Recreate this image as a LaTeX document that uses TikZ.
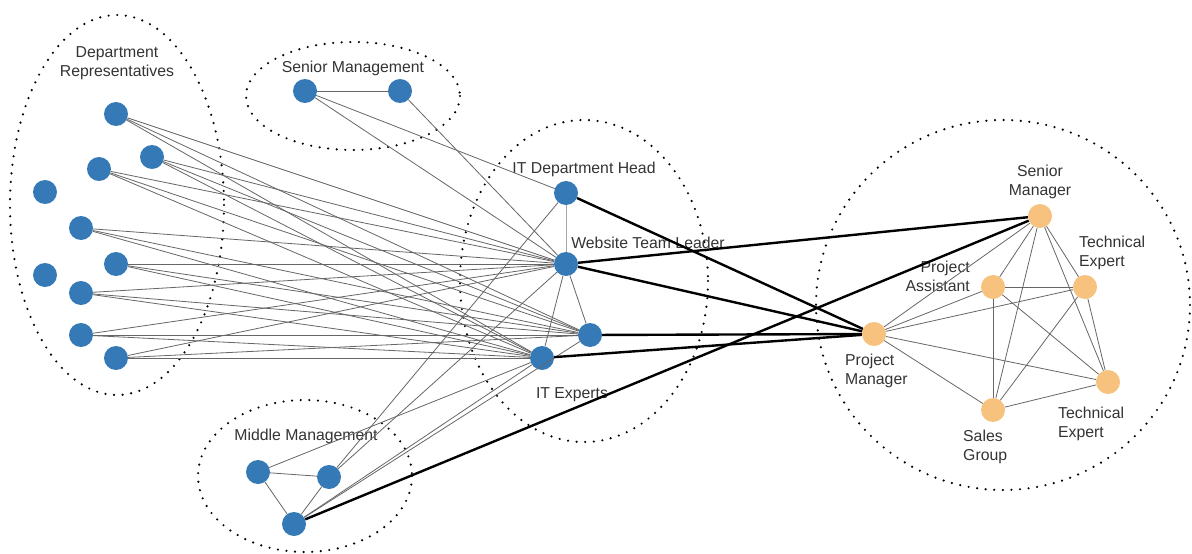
\documentclass[tikz,border=0pt]{standalone}
\usepackage{fontspec}
\setmainfont{Liberation Sans}
\usetikzlibrary{positioning}
\definecolor{nodeblue}{RGB}{53,122,183}
\definecolor{nodeorange}{RGB}{246,194,126}
\definecolor{labelgray}{RGB}{51,51,51}
\tikzset{member/.style={circle,fill=nodeblue,minimum size=24pt,inner sep=0pt},
    partner/.style={member,fill=nodeorange},
    tie/.style={draw=black!60,line width=0.8pt},
    strongtie/.style={draw=black,line width=2.4pt},
    group/.style={draw=black,line width=2.4pt,line cap=round,dash pattern=on 0pt off 8.6pt},
    caption/.style={font=\fontsize{15.8}{19}\selectfont,text=labelgray,inner sep=0pt,yshift=-2pt}}

\begin{document}
\begin{tikzpicture}[x=1pt,y=-1pt]
        \useasboundingbox (0,0) rectangle (1192,554);
        \draw[group] (117,205) ellipse [x radius=107,y radius=190];
        \draw[group] (353,96) ellipse [x radius=107,y radius=54];
        \draw[group] (584,281) ellipse [x radius=124,y radius=161];
        \draw[group] (305,476) ellipse [x radius=107,y radius=76];
        \draw[group] (1003,305) ellipse [x radius=187,y radius=185];

        \node[member] (dr1) at (116,114) {};
        \node[member] (dr2) at (152,157) {};
        \node[member] (dr3) at (99,169) {};
        \node[member] (dr4) at (45,192) {};
        \node[member] (dr5) at (81,228) {};
        \node[member] (dr6) at (116,264) {};
        \node[member] (dr7) at (45,275) {};
        \node[member] (dr8) at (81,293) {};
        \node[member] (dr9) at (81,335) {};
        \node[member] (dr10) at (116,358) {};
        \node[member] (sm1) at (305,91) {};
        \node[member] (sm2) at (400,91) {};
        \node[member] (ithead) at (566,193) {};
        \node[member] (wtl) at (566,264) {};
        \node[member] (ite1) at (590,335) {};
        \node[member] (ite2) at (542,358) {};
        \node[member] (mm1) at (258,472) {};
        \node[member] (mm2) at (329,477) {};
        \node[member] (mm3) at (294,524) {};
        \node[partner] (smgr) at (1040,216) {};
        \node[partner] (pa) at (993,287) {};
        \node[partner] (te1) at (1085,287) {};
        \node[partner] (pm) at (874,334) {};
        \node[partner] (te2) at (1108,382) {};
        \node[partner] (sg) at (993,410) {};

        \node[caption,align=center] (drlabel) at (117,61) {Department\\Representatives};
        \node[caption] (smlabel) at (353,66) {Senior Management};
        \node[caption] (itheadlabel) at (584,167) {IT Department Head};
        \node[caption] (wtllabel) at (648,241) {Website Team Leader};
        \node[caption] (itelabel) at (572,393) {IT Experts};
        \node[caption] (mmlabel) at (306,434) {Middle Management};
        \node[caption,align=center] (smgrlabel) at (1040,180) {Senior\\Manager};
        \node[caption,align=left,anchor=west] (te1label) at (1079,251) {Technical\\Expert};
        \node[caption,align=right,anchor=east] (palabel) at (970,274) {Project\\Assistant};
        \node[caption,align=left,anchor=west] (pmlabel) at (845,369) {Project\\Manager};
        \node[caption,align=left,anchor=west] (te2label) at (1058,422) {Technical\\Expert};
        \node[caption,align=left,anchor=west] (sglabel) at (963,445) {Sales\\Group};

        \foreach \r in {dr1,dr2,dr3,dr5,dr6,dr8,dr9,dr10}{
            \draw[tie] (\r) -- (wtl);
            \draw[tie] (\r) -- (ite1);
            \draw[tie] (\r) -- (ite2);
        }
        \draw[tie] (sm1) -- (sm2);
        \draw[tie] (sm1) -- (ithead);
        \draw[tie] (sm1) -- (wtl);
        \draw[tie] (sm2) -- (wtl);
        \draw[tie,draw=black!35] (ithead) -- (wtl);
        \draw[tie] (wtl) -- (ite1);
        \draw[tie] (wtl) -- (ite2);
        \draw[tie] (mm1) -- (mm2);
        \draw[tie] (mm1) -- (mm3);
        \draw[tie] (mm2) -- (mm3);
        \draw[tie] (mm1) -- (ite2);
        \draw[tie] (mm2) -- (ithead);
        \draw[tie] (mm2) -- (wtl);
        \draw[tie] (mm3) -- (ite1);
        \draw[tie] (mm3) -- (ite2);
        \foreach \a/\b in {pm/smgr,pm/pa,pm/te1,pm/te2,pm/sg,smgr/pa,smgr/te1,smgr/te2,smgr/sg,
            pa/te1,pa/sg,pa/te2,te1/sg,te1/te2,te2/sg}{
            \draw[tie] (\a) -- (\b);
        }
        \draw[strongtie] (ithead) -- (pm);
        \draw[strongtie] (wtl) -- (smgr);
        \draw[strongtie] (wtl) -- (pm);
        \draw[strongtie] (ite1) -- (pm);
        \draw[strongtie] (ite2) -- (pm);
        \draw[strongtie] (mm3) -- (smgr);
    \end{tikzpicture}
\end{document}
